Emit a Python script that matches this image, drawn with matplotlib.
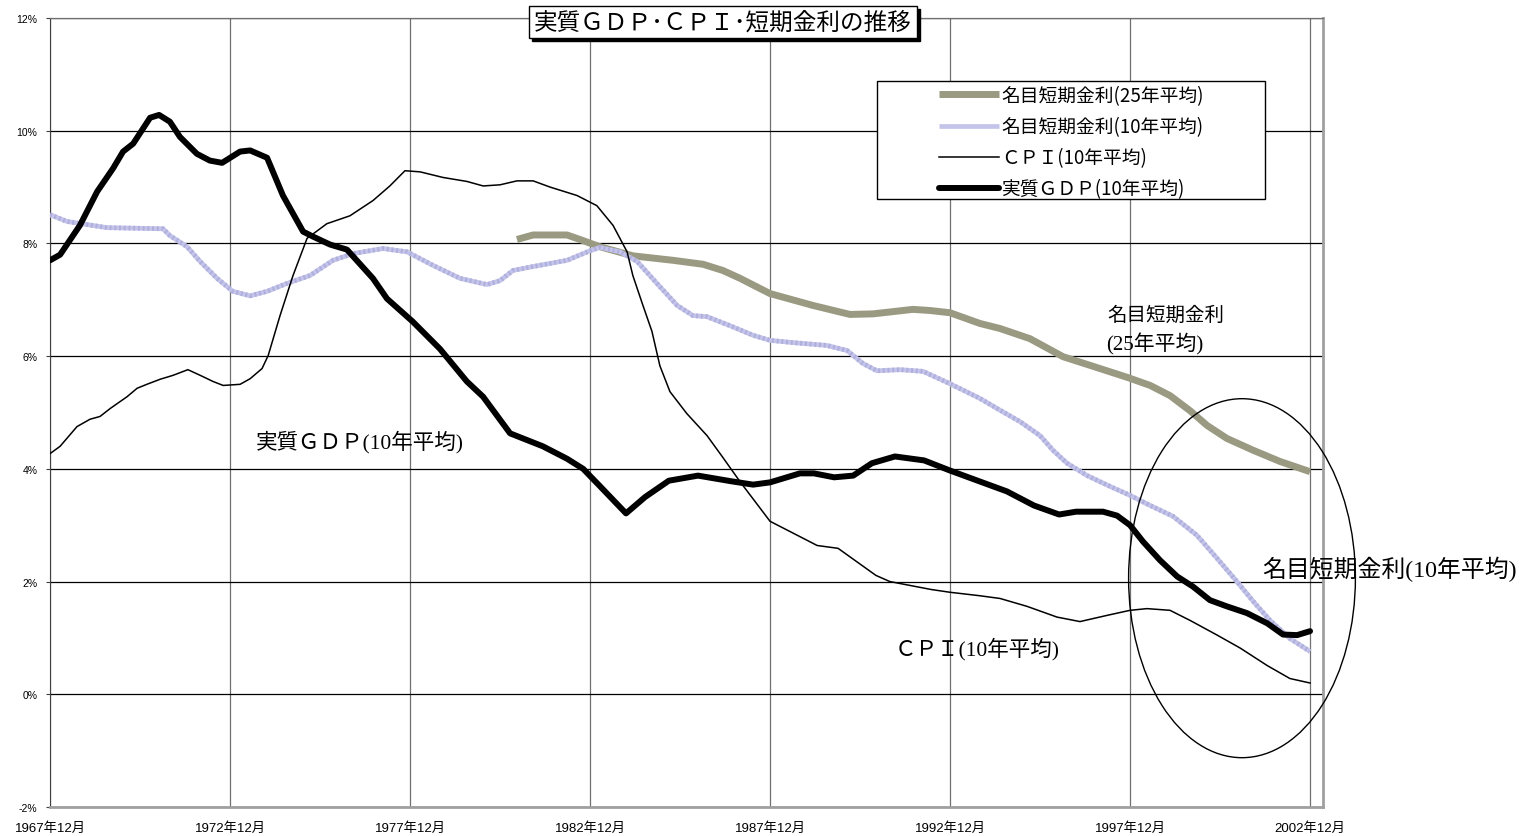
import matplotlib
matplotlib.use('Agg')
import matplotlib.pyplot as plt
from matplotlib.patches import Ellipse, Rectangle
import matplotlib.transforms as mtransforms

plt.rcParams['font.family'] = ['Noto Sans CJK JP', 'DejaVu Sans']

# x = years since 1967年12月
year_labels = ['1967年12月', '1972年12月', '1977年12月', '1982年12月',
               '1987年12月', '1992年12月', '1997年12月', '2002年12月']
y_ticks = [-2, 0, 2, 4, 6, 8, 10, 12]

# 実質GDP(10年平均)
gdp_t = [0, 0.28, 0.83, 1.31, 1.75, 2.03, 2.31, 2.78, 3.03, 3.33, 3.61, 4.08,
         4.44, 4.78, 5.28, 5.56, 6.03, 6.47, 7.03, 7.31, 7.78, 8.25, 8.97, 9.36,
         10.08, 10.83, 11.58, 12.03, 12.78, 13.69, 14.36, 14.81, 15.28, 16.0,
         16.53, 17.19, 18.0, 18.92, 19.53, 20.0, 20.83, 21.22, 21.78, 22.31,
         22.83, 23.47, 24.28, 25.0, 25.81, 26.58, 27.33, 28.03, 28.5, 29.25,
         29.64, 30.0, 30.36, 30.83, 31.31, 31.75, 32.22, 32.69, 33.25, 33.81,
         34.25, 34.64, 35.0]
gdp = [7.70, 7.80, 8.32, 8.92, 9.33, 9.63, 9.77, 10.23, 10.28, 10.16, 9.89, 9.59,
       9.47, 9.43, 9.63, 9.65, 9.52, 8.85, 8.21, 8.12, 7.98, 7.89, 7.38, 7.02,
       6.61, 6.13, 5.55, 5.28, 4.63, 4.40, 4.18, 4.00, 3.69, 3.21,
       3.50, 3.79, 3.88, 3.78, 3.72, 3.76, 3.92, 3.92, 3.85, 3.88,
       4.10, 4.22, 4.15, 3.97, 3.78, 3.60, 3.35, 3.19, 3.24, 3.24,
       3.17, 3.00, 2.71, 2.38, 2.09, 1.91, 1.67, 1.56, 1.44, 1.26,
       1.06, 1.05, 1.12]

# CPI(10年平均)
cpi_t = [0, 0.28, 0.75, 1.11, 1.39, 1.67, 2.14, 2.42, 2.69, 3.06, 3.42, 3.83,
         4.17, 4.53, 4.81, 5.28, 5.56, 5.89, 6.06, 6.39, 6.75, 7.14, 7.69, 8.33,
         8.97, 9.44, 9.86, 10.28, 10.92, 11.58, 12.03, 12.5, 12.97, 13.42, 13.89,
         14.64, 15.19, 15.64, 16.03, 16.19, 16.47, 16.72, 16.94, 17.22, 17.69,
         18.25, 18.67, 19.17, 20.0, 21.31, 21.89, 22.94, 23.33, 24.47, 25.0,
         25.81, 26.39, 27.14, 27.97, 28.61, 29.36, 30.0, 30.47, 31.11, 31.67,
         32.42, 33.06, 33.81, 34.44, 35.0]
cpi = [4.27, 4.40, 4.75, 4.88, 4.93, 5.07, 5.28, 5.43, 5.50, 5.59, 5.66, 5.76,
       5.66, 5.55, 5.48, 5.50, 5.60, 5.78, 6.01, 6.72, 7.43, 8.09, 8.35, 8.49,
       8.76, 9.02, 9.29, 9.27, 9.17, 9.10, 9.02, 9.04, 9.11, 9.11, 9.00,
       8.85, 8.67, 8.32, 7.85, 7.43, 6.90, 6.44, 5.83, 5.37, 4.98,
       4.59, 4.22, 3.77, 3.07, 2.64, 2.59, 2.11, 2.00, 1.86, 1.81,
       1.75, 1.70, 1.56, 1.37, 1.29, 1.40, 1.49, 1.52, 1.49, 1.31,
       1.05, 0.82, 0.51, 0.28, 0.20]

# 名目短期金利(10年平均)
rate10_t = [0, 0.47, 1.58, 3.14, 3.33, 3.81, 4.17, 4.64, 5.08, 5.56, 6.03, 6.58,
            7.22, 7.86, 8.42, 9.25, 9.92, 10.64, 11.39, 12.14, 12.5, 12.86, 13.42,
            14.36, 15.0, 15.28, 15.83, 16.31, 16.86, 17.42, 17.86, 18.25, 18.89,
            19.53, 20.0, 20.64, 21.58, 22.14, 22.58, 22.97, 23.61, 24.25, 25.0,
            25.83, 26.39, 26.94, 27.5, 27.86, 28.25, 28.81, 29.44, 30.0, 30.56,
            31.19, 31.86, 32.42, 32.97, 33.42, 33.89, 34.44, 35.0]
rate10 = [8.51, 8.39, 8.28, 8.26, 8.14, 7.94, 7.68, 7.38, 7.15, 7.07, 7.15, 7.29,
          7.43, 7.70, 7.82, 7.91, 7.85, 7.61, 7.38, 7.27, 7.34, 7.52, 7.59,
          7.70, 7.87, 7.93, 7.85, 7.68, 7.29, 6.90, 6.72, 6.70, 6.54,
          6.37, 6.28, 6.24, 6.19, 6.10, 5.87, 5.74, 5.76, 5.73, 5.51,
          5.25, 5.04, 4.84, 4.59, 4.33, 4.10, 3.88, 3.69, 3.53, 3.35,
          3.16, 2.82, 2.41, 2.00, 1.65, 1.31, 0.99, 0.76]

# 名目短期金利(25年平均)
rate25_t = [12.97, 13.42, 14.36, 14.72, 15.28, 16.19, 17.31, 18.14, 18.69, 19.17,
            20.0, 21.19, 22.22, 22.86, 23.97, 24.44, 25.0, 25.83, 26.39, 27.22,
            28.14, 28.97, 29.94, 30.56, 31.11, 31.67, 32.14, 32.69, 33.42, 34.17,
            35.0]
rate25 = [8.07, 8.15, 8.15, 8.07, 7.94, 7.78, 7.70, 7.63, 7.52, 7.38,
          7.11, 6.90, 6.74, 6.75, 6.83, 6.81, 6.77, 6.58, 6.49, 6.31,
          5.99, 5.82, 5.62, 5.48, 5.30, 5.03, 4.77, 4.54, 4.33, 4.13,
          3.95]

fig = plt.figure(figsize=(15.27, 8.37), dpi=100)
ax = fig.add_axes([50 / 1527, 1 - 808 / 837, 1273 / 1527, 789 / 837])

c25 = '#9a9a82'
c10 = '#c4c4ea'

l25, = ax.plot(rate25_t, rate25, color=c25, lw=5, solid_capstyle='butt',
               solid_joinstyle='round', zorder=3)
l10, = ax.plot(rate10_t, rate10, color=c10, lw=3.4, solid_capstyle='butt',
               solid_joinstyle='round', zorder=3)
ax.plot(rate10_t, rate10, color='#aeaedc', lw=3.4, ls=(0, (0.4, 0.6)), zorder=3)
lcpi, = ax.plot(cpi_t, cpi, color='black', lw=1.1, solid_joinstyle='round', zorder=4)
lgdp, = ax.plot(gdp_t, gdp, color='black', lw=4.3, solid_capstyle='round',
                solid_joinstyle='round', zorder=5)

ax.set_xlim(0, 35.36)
ax.set_ylim(-2, 12)
ax.set_xticks([0, 5, 10, 15, 20, 25, 30, 35])
ax.set_xticklabels(year_labels, family=['Liberation Sans', 'Noto Sans CJK JP'],
                   fontsize=9.5)
ax.set_yticks(y_ticks)
ax.set_yticklabels([f'{v}%' for v in y_ticks], family=['Liberation Sans'], fontsize=7.5)
ax.tick_params(axis='y', length=3, pad=6, color='#404040')
ax.tick_params(axis='x', length=0, pad=10)

ax.set_axisbelow(True)
ax.yaxis.grid(True, color='black', lw=0.9)
ax.xaxis.grid(True, color='#707070', lw=0.9)

ax.spines['left'].set_color('#404040')
ax.spines['top'].set_color('#707070')
ax.spines['top'].set_linewidth(0.9)
ax.spines['bottom'].set_color('#a0a0a0')
ax.spines['bottom'].set_linewidth(2)
ax.spines['right'].set_color('#a0a0a0')
ax.spines['right'].set_linewidth(2)

# legend box drawn by hand, entries via legend()
ax.add_patch(Rectangle(((877 - 50) / 1273, (808 - 200) / 789),
                       (1265 - 877) / 1273, (200 - 82) / 789,
                       transform=ax.transAxes, fc='white', ec='black', lw=1, zorder=6))
leg = ax.legend([l25, l10, lcpi, lgdp],
                ['名目短期金利(25年平均)', '名目短期金利(10年平均)',
                 'ＣＰＩ(10年平均)', '実質ＧＤＰ(10年平均)'],
                loc='upper left', bbox_to_anchor=((939 - 50) / 1273, (808 - 86) / 789),
                frameon=False, fontsize=13.5, handlelength=3.2, handletextpad=0.1,
                labelspacing=0.54, borderaxespad=0, borderpad=0)
leg.set_zorder(7)

serif_cjk = ['Liberation Serif', 'Noto Sans CJK JP']
ax.text(8.61, 4.49, '実質ＧＤＰ(10年平均)', fontsize=15.5, family=serif_cjk,
        ha='center', va='center', zorder=8)
ax.text(31.0, 6.74, '名目短期金利', fontsize=14, family=serif_cjk,
        ha='center', va='center', zorder=8)
ax.text(30.69, 6.22, '(25年平均)', fontsize=15, family=serif_cjk,
        ha='center', va='center', zorder=8)
ax.text(25.75, 0.82, 'ＣＰＩ(10年平均)', fontsize=15.5, family=serif_cjk,
        ha='center', va='center', zorder=8)
ax.text(33.67, 2.23, '名目短期金利(10年平均)', fontsize=17.2, family=serif_cjk,
        ha='left', va='center', zorder=8, clip_on=False)

ax.add_patch(Ellipse((33.11, 2.06), width=6.3, height=6.37, fill=False,
                     ec='black', lw=1, zorder=6, clip_on=False))

# title with drop shadow
title = '実質ＧＤＰ･ＣＰＩ･短期金利の推移'
shadow_tr = mtransforms.offset_copy(fig.transFigure, fig=fig, x=3, y=-3, units='dots')
fig.text(0.4735, 0.9725, title, fontsize=17, ha='center', va='center',
         color='black', transform=shadow_tr, zorder=9,
         bbox=dict(boxstyle='square,pad=0.2', fc='black', ec='black', lw=1))
fig.text(0.4735, 0.9725, title, fontsize=17, ha='center', va='center',
         color='black', zorder=10,
         bbox=dict(boxstyle='square,pad=0.2', fc='white', ec='black', lw=1))

fig.savefig('out.png', dpi=100)
